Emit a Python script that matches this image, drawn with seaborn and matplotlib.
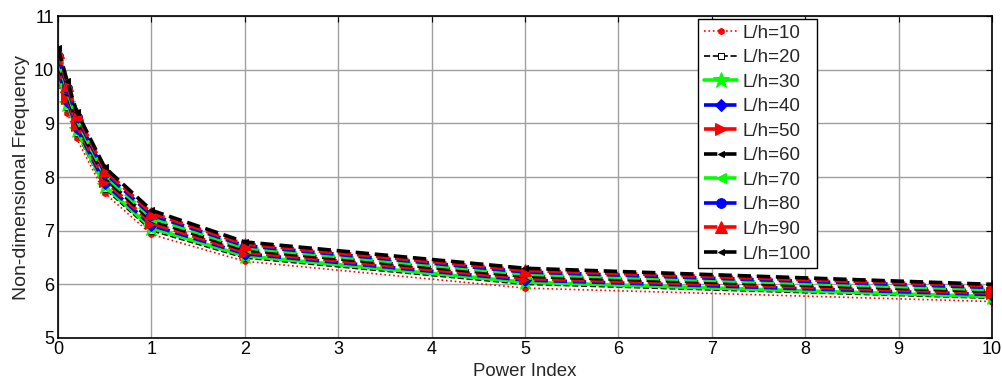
import numpy as np
import pandas as pd
import matplotlib
matplotlib.use("Agg")
import matplotlib.pyplot as plt
import seaborn as sns

# ---- data ----
power_index = [0, 0.1, 0.2, 0.5, 1, 2, 5, 10]
labels = ["L/h=10", "L/h=20", "L/h=30", "L/h=40", "L/h=50",
          "L/h=60", "L/h=70", "L/h=80", "L/h=90", "L/h=100"]
lh10 = [9.75, 9.20, 8.72, 7.70, 6.93, 6.43, 5.93, 5.68]
lh20 = [9.85, 9.30, 8.82, 7.78, 7.00, 6.49, 6.00, 5.74]
lh30 = [9.92, 9.36, 8.87, 7.83, 7.05, 6.53, 6.04, 5.77]
lh40 = [9.99, 9.42, 8.92, 7.88, 7.10, 6.57, 6.08, 5.81]
lh50 = [10.06, 9.48, 8.97, 7.93, 7.14, 6.60, 6.11, 5.84]
lh60 = [10.13, 9.54, 9.02, 7.98, 7.19, 6.64, 6.15, 5.87]
lh70 = [10.19, 9.60, 9.07, 8.03, 7.24, 6.68, 6.19, 5.90]
lh80 = [10.26, 9.66, 9.12, 8.08, 7.29, 6.72, 6.23, 5.94]
lh90 = [10.33, 9.72, 9.17, 8.13, 7.33, 6.75, 6.26, 5.97]
lh100 = [10.40, 9.78, 9.22, 8.18, 7.38, 6.79, 6.30, 6.00]
series = [lh10, lh20, lh30, lh40, lh50, lh60, lh70, lh80, lh90, lh100]
x_ticks = [0, 1, 2, 3, 4, 5, 6, 7, 8, 9, 10]
y_ticks = [5, 6, 7, 8, 9, 10, 11]

# ---- styles ----
styles = [
    dict(color="#ff0000", linestyle=":", marker="h", markersize=4.5, linewidth=1.2),
    dict(color="#000000", linestyle="--", marker="s", markersize=5, linewidth=1.2,
         markerfacecolor="white"),
    dict(color="#00ff00", linestyle="-", marker="*", markersize=12, linewidth=2.6),
    dict(color="#0000ff", linestyle="--", marker="D", markersize=6, linewidth=2.6),
    dict(color="#ff0000", linestyle="--", marker=">", markersize=8, linewidth=2.6),
    dict(color="#000000", linestyle="--", marker="<", markersize=5, linewidth=2.6),
    dict(color="#00ff00", linestyle="--", marker="<", markersize=7, linewidth=2.6),
    dict(color="#0000ff", linestyle="--", marker="o", markersize=7, linewidth=2.6),
    dict(color="#ff0000", linestyle="--", marker="^", markersize=8, linewidth=2.6),
    dict(color="#000000", linestyle="--", marker="<", markersize=5, linewidth=2.6),
]

sns.set_style("whitegrid")
plt.rcParams["font.family"] = ["Liberation Sans", "DejaVu Sans"]

fig = plt.figure(figsize=(10.03, 3.85), dpi=100)
ax = fig.add_axes([58 / 1003, 1 - 338 / 385, (992 - 58) / 1003, (338 - 16) / 385])

for lab, vals, st in zip(labels, series, styles):
    df = pd.DataFrame({"x": power_index, "y": vals})
    sns.lineplot(data=df, x="x", y="y", ax=ax, label=lab,
                 markeredgecolor=st["color"],
                 **st)

ax.set_xlim(0, 10)
ax.set_ylim(5, 11)
ax.set_xticks(x_ticks)
ax.set_yticks(y_ticks)
ax.tick_params(direction="in", length=4, labelsize=13, top=True, right=True,
               colors="black")
ax.tick_params(axis="x", pad=2)
ax.tick_params(axis="y", pad=3)
ax.grid(True, color="#a0a0a0", linewidth=1.0)
for sp in ax.spines.values():
    sp.set_color("black")
    sp.set_linewidth(1.2)
ax.set_xlabel("Power Index", fontsize=13.4, labelpad=4)
ax.set_ylabel("Non-dimensional Frequency", fontsize=14, labelpad=3)

leg = ax.legend(loc="upper left", bbox_to_anchor=(698 / 1003, 1 - 19 / 385),
                bbox_transform=fig.transFigure, fontsize=13.5, frameon=True,
                fancybox=False, edgecolor="black", framealpha=1,
                handlelength=1.8, labelspacing=0.395, borderpad=0.3,
                handletextpad=0.3, borderaxespad=0)
leg.get_frame().set_linewidth(1.0)

fig.savefig("out.png", dpi=100)
